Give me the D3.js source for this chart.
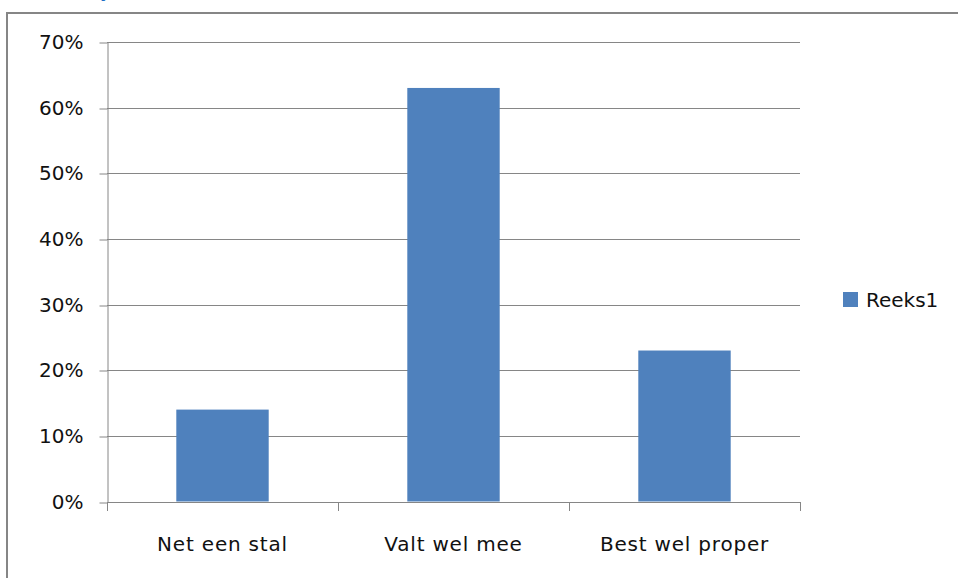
<!DOCTYPE html>
<html>
<head>
<meta charset="utf-8">
<script src="https://cdn.jsdelivr.net/npm/d3@7/dist/d3.min.js"></script>
<style>
  html, body { margin: 0; padding: 0; background: #fff; }
  svg { display: block; }
  text { font-family: "DejaVu Sans", sans-serif; }
</style>
</head>
<body>
<svg id="chart" width="958" height="578"></svg>
<script>
const categories = ["Net een stal", "Valt wel mee", "Best wel proper"];
const values = [0.14, 0.63, 0.23];
const yTicks = [0, 0.1, 0.2, 0.3, 0.4, 0.5, 0.6, 0.7];
const seriesName = "Reeks1";

const svg = d3.select("#chart");
const gray = "#868686";
const barColor = "#4F81BD";

// outer chart border (extends beyond the visible picture at right/bottom)
svg.append("rect")
  .attr("x", 7).attr("y", 13)
  .attr("width", 960).attr("height", 580)
  .attr("fill", "none").attr("stroke", gray).attr("stroke-width", 2);

// cropped title fragment (only a descender is visible in the reference)
svg.append("text")
  .attr("x", 100).attr("y", -3)
  .attr("fill", "#1F6FC5").attr("font-size", 20)
  .text("y");

const plotLeft = 107, plotRight = 800, plotTop = 42, plotBottom = 501.5;

const y = d3.scaleLinear().domain([0, 0.7]).range([plotBottom, plotTop]);
const x = d3.scaleBand().domain(categories).range([plotLeft, plotRight]).paddingInner(0).paddingOuter(0);
const bw = x.bandwidth();
const barW = bw * 0.4;

// gridlines
svg.append("g").selectAll("line")
  .data(yTicks.filter(t => t > 0))
  .join("line")
  .attr("x1", plotLeft).attr("x2", plotRight)
  .attr("y1", d => Math.round(y(d)) + 0.5).attr("y2", d => Math.round(y(d)) + 0.5)
  .attr("stroke", gray).attr("stroke-width", 1);

// y axis
const yAxis = svg.append("g")
  .attr("transform", `translate(${plotLeft + 0.5},0)`)
  .call(d3.axisLeft(y).tickValues(yTicks).tickFormat(d3.format(".0%")).tickSizeInner(8).tickSizeOuter(0).tickPadding(16));
yAxis.select(".domain").attr("stroke", gray).attr("stroke-width", 1);
yAxis.selectAll(".tick line").attr("stroke", gray)
  .attr("transform", d => `translate(0,${Math.round(y(d)) + 0.5 - y(d)})`);
yAxis.selectAll(".tick text")
  .attr("font-family", "DejaVu Sans, sans-serif").attr("font-size", 20).attr("fill", "#111")
  .attr("dy", "0.33em");

// bars
svg.append("g").selectAll("rect")
  .data(categories.map((c, i) => ({ c, v: values[i] })))
  .join("rect")
  .attr("x", d => x(d.c) + (bw - barW) / 2)
  .attr("width", barW)
  .attr("y", d => y(d.v))
  .attr("height", d => y(0) - y(d.v))
  .attr("fill", barColor);

// x axis baseline + ticks at band boundaries
const xAxisG = svg.append("g");
xAxisG.append("line")
  .attr("x1", plotLeft).attr("x2", plotRight)
  .attr("y1", Math.round(plotBottom) + 0.5).attr("y2", Math.round(plotBottom) + 0.5)
  .attr("stroke", gray);
const edges = categories.map(c => x(c)).concat([x.range()[1]]);
xAxisG.selectAll("line.edge")
  .data(edges)
  .join("line").attr("class", "edge")
  .attr("x1", d => Math.round(d) + 0.5).attr("x2", d => Math.round(d) + 0.5)
  .attr("y1", Math.round(plotBottom)).attr("y2", Math.round(plotBottom) + 9)
  .attr("stroke", gray);

// category labels
const xAxis = svg.append("g")
  .attr("transform", `translate(0,${plotBottom})`)
  .call(d3.axisBottom(x).tickSize(0).tickPadding(35));
xAxis.select(".domain").remove();
xAxis.selectAll(".tick text")
  .attr("font-family", "DejaVu Sans, sans-serif").attr("font-size", 20).attr("fill", "#111")
  .attr("letter-spacing", "0.8px");

// legend
const lg = svg.append("g");
lg.append("rect").attr("x", 843).attr("y", 292).attr("width", 15).attr("height", 15).attr("fill", barColor);
lg.append("text").attr("x", 866).attr("y", 307).attr("font-size", 20).attr("fill", "#111").text(seriesName);
</script>
</body>
</html>
